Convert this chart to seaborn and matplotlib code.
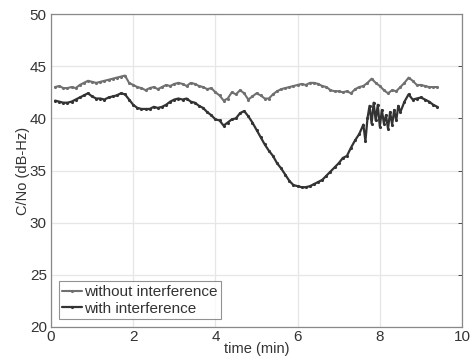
import numpy as np
import pandas as pd
import seaborn as sns
import matplotlib
matplotlib.use("Agg")
import matplotlib.pyplot as plt

# ---- data ----
t_without = [0.1, 0.2, 0.3, 0.4, 0.5, 0.6, 0.7, 0.8, 0.9, 1.0, 1.1, 1.2, 1.3, 1.4, 1.5,
             1.6, 1.7, 1.8, 1.9, 2.0, 2.1, 2.2, 2.3, 2.4, 2.5, 2.6, 2.7, 2.8, 2.9, 3.0,
             3.1, 3.2, 3.3, 3.4, 3.5, 3.6, 3.7, 3.8, 3.9, 4.0, 4.1, 4.2, 4.3, 4.4, 4.5,
             4.6, 4.7, 4.8, 4.9, 5.0, 5.1, 5.2, 5.3, 5.4, 5.5, 5.6, 5.7, 5.8, 5.9, 6.0,
             6.1, 6.2, 6.3, 6.4, 6.5, 6.6, 6.7, 6.8, 6.9, 7.0, 7.1, 7.2, 7.3, 7.4, 7.5,
             7.6, 7.7, 7.8, 7.9, 8.0, 8.1, 8.2, 8.3, 8.4, 8.5, 8.6, 8.7, 8.8, 8.9, 9.0,
             9.1, 9.2, 9.3, 9.4]
cn_without = [43.0, 43.1, 42.9, 42.9, 43.0, 42.9, 43.2, 43.4, 43.6, 43.5, 43.4, 43.5, 43.6, 43.7, 43.8,
              43.9, 44.0, 44.1, 43.4, 43.2, 43.0, 42.9, 42.7, 42.9, 43.0, 42.8, 43.0, 43.2, 43.1, 43.3,
              43.4, 43.3, 43.1, 43.4, 43.3, 43.1, 43.0, 42.8, 42.9, 42.5, 42.2, 41.7, 41.9, 42.5, 42.3,
              42.7, 42.4, 41.8, 42.1, 42.4, 42.2, 41.9, 41.9, 42.3, 42.6, 42.8, 42.9, 43.0, 43.1, 43.2,
              43.3, 43.2, 43.4, 43.4, 43.3, 43.1, 43.0, 42.7, 42.6, 42.6, 42.5, 42.6, 42.4, 42.8, 43.0,
              43.1, 43.4, 43.8, 43.4, 43.1, 42.7, 42.4, 42.7, 42.6, 43.0, 43.4, 43.9, 43.6, 43.2, 43.2,
              43.1, 43.0, 43.0, 43.0]

t_with = [0.1, 0.2, 0.3, 0.4, 0.5, 0.6, 0.7, 0.8, 0.9, 1.0, 1.1, 1.2, 1.3, 1.4, 1.5,
          1.6, 1.7, 1.8, 1.9, 2.0, 2.1, 2.2, 2.3, 2.4, 2.5, 2.6, 2.7, 2.8, 2.9, 3.0,
          3.1, 3.2, 3.3, 3.4, 3.5, 3.6, 3.7, 3.8, 3.9, 4.0, 4.1, 4.2, 4.3, 4.4, 4.5,
          4.6, 4.7, 4.8, 4.9, 5.0, 5.1, 5.2, 5.3, 5.4, 5.5, 5.6, 5.7, 5.8, 5.9, 6.0,
          6.1, 6.2, 6.3, 6.4, 6.5, 6.6, 6.7, 6.8, 6.9, 7.0, 7.1, 7.2, 7.3, 7.4, 7.5,
          7.6, 7.65, 7.7, 7.75, 7.8, 7.85, 7.9, 7.95, 8.0, 8.05, 8.1, 8.15, 8.2, 8.25,
          8.3, 8.35, 8.4, 8.45, 8.5, 8.6, 8.7, 8.8, 8.9, 9.0, 9.1, 9.2, 9.3, 9.4]
cn_with = [41.7, 41.6, 41.5, 41.5, 41.6, 41.8, 42.0, 42.2, 42.4, 42.1, 41.9, 41.9, 41.8, 42.0, 42.1,
           42.2, 42.4, 42.3, 41.8, 41.3, 41.0, 40.9, 40.9, 40.9, 41.1, 41.0, 41.1, 41.3, 41.6, 41.8,
           41.9, 41.8, 41.9, 41.6, 41.5, 41.2, 41.0, 40.6, 40.3, 39.9, 39.8, 39.3, 39.6, 39.9, 40.0,
           40.5, 40.7, 40.2, 39.6, 38.9, 38.2, 37.5, 36.9, 36.4, 35.7, 35.2, 34.6, 34.0, 33.6, 33.5,
           33.4, 33.4, 33.5, 33.7, 33.9, 34.1, 34.5, 34.9, 35.3, 35.7, 36.2, 36.4, 37.2, 37.9, 38.5,
           39.4, 37.8, 40.0, 41.2, 39.5, 41.5, 39.8, 41.3, 39.2, 40.8, 39.5, 40.3, 39.0, 40.6,
           39.4, 40.8, 39.8, 41.2, 40.6, 41.6, 42.3, 41.8, 41.9, 42.0, 41.8, 41.6, 41.3, 41.1]

x_ticks = [0, 2, 4, 6, 8, 10]
y_ticks = [20, 25, 30, 35, 40, 45, 50]
x_label = "time (min)"
y_label = "C/No (dB-Hz)"
labels = ["without interference", "with interference"]

# ---- plot ----
sns.set_style("whitegrid", {"grid.color": "#e4e4e4", "axes.edgecolor": "#888888",
                            "xtick.direction": "in", "ytick.direction": "in"})
plt.rcParams["font.family"] = ["Liberation Sans", "DejaVu Sans"]

fig = plt.figure(figsize=(4.70, 3.63), dpi=100)
ax = fig.add_axes([0.1085, 0.0992, 0.8745, 0.8622])

df1 = pd.DataFrame({"t": t_without, "cn": cn_without})
df2 = pd.DataFrame({"t": t_with, "cn": cn_with})
sns.lineplot(data=df1, x="t", y="cn", ax=ax, color="#707070", linewidth=1.5,
             marker=".", markersize=4.5, markeredgewidth=0, label=labels[0])
sns.lineplot(data=df2, x="t", y="cn", ax=ax, color="#333333", linewidth=1.6,
             marker=".", markersize=4.5, markeredgewidth=0, label=labels[1])

ax.set_xlim(0, 10)
ax.set_ylim(20, 50)
ax.set_xticks(x_ticks)
ax.set_yticks(y_ticks)
ax.tick_params(axis="both", labelsize=11, colors="#333333", length=3, width=0.6,
               direction="in", right=True, top=False)
ax.tick_params(axis="y", pad=3)
ax.tick_params(axis="x", pad=2)
for s in ax.spines.values():
    s.set_color("#888888")
    s.set_linewidth(0.9)
ax.grid(True, color="#e6e6e6", linewidth=0.9)

ax.set_xlabel(x_label, fontsize=10.5, color="#333333", labelpad=-1)
ax.set_ylabel(y_label, fontsize=10.5, color="#333333", labelpad=0)

leg = ax.legend(loc="lower left", fontsize=11, frameon=True, fancybox=False,
                borderpad=0.25, handlelength=1.3, handletextpad=0.1,
                labelspacing=0.15, borderaxespad=0.5)
leg.get_frame().set_edgecolor("#777777")
leg.get_frame().set_linewidth(0.8)
for txt in leg.get_texts():
    txt.set_color("#333333")

fig.savefig("out.png", dpi=100)
